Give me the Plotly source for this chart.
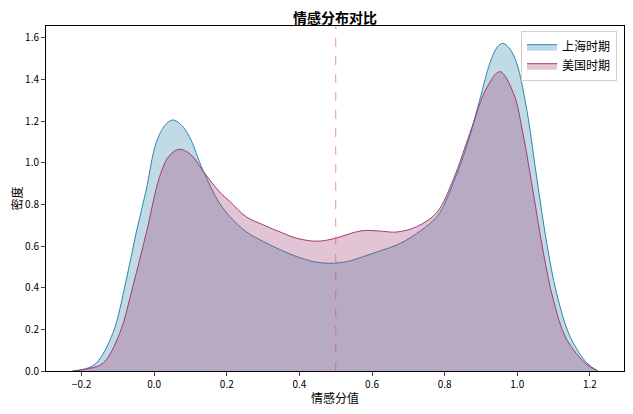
import plotly.graph_objects as go

# kde curves (sentiment score vs density)
sh_x = [-0.225, -0.19, -0.16, -0.114, -0.077, -0.05, -0.022, 0.005, 0.03, 0.051,
        0.075, 0.097, 0.134, 0.18, 0.209, 0.253, 0.301, 0.35, 0.393, 0.44,
        0.484, 0.53, 0.576, 0.62, 0.668, 0.71, 0.76, 0.787, 0.824, 0.861,
        0.897, 0.925, 0.945, 0.96, 0.978, 0.998, 1.026, 1.053, 1.081, 1.108,
        1.145, 1.191, 1.222]
sh_y = [0.0, 0.01, 0.037, 0.181, 0.437, 0.661, 0.869, 1.093, 1.18, 1.205,
        1.18, 1.125, 0.965, 0.805, 0.741, 0.669, 0.621, 0.58, 0.549, 0.525,
        0.517, 0.525, 0.549, 0.575, 0.605, 0.645, 0.709, 0.76, 0.904, 1.08,
        1.304, 1.48, 1.555, 1.573, 1.55, 1.48, 1.256, 0.936, 0.616, 0.376,
        0.168, 0.04, 0.0]

us_x = [-0.225, -0.18, -0.141, -0.095, -0.059, -0.022, 0.015, 0.04, 0.068, 0.1,
        0.139, 0.18, 0.209, 0.253, 0.301, 0.35, 0.393, 0.448, 0.499, 0.54,
        0.576, 0.62, 0.668, 0.723, 0.778, 0.824, 0.87, 0.916, 0.952, 0.989,
        1.017, 1.044, 1.072, 1.099, 1.136, 1.191, 1.222]
us_y = [0.0, 0.012, 0.037, 0.181, 0.405, 0.661, 0.933, 1.03, 1.064, 1.04,
        0.949, 0.86, 0.813, 0.741, 0.701, 0.665, 0.637, 0.623, 0.637, 0.66,
        0.674, 0.672, 0.667, 0.693, 0.76, 0.92, 1.144, 1.36, 1.437, 1.336,
        1.128, 0.856, 0.568, 0.344, 0.152, 0.032, 0.0]

x_ticks = [-0.2, 0.0, 0.2, 0.4, 0.6, 0.8, 1.0, 1.2]
y_ticks = [0.0, 0.2, 0.4, 0.6, 0.8, 1.0, 1.2, 1.4, 1.6]

font = "Noto Sans CJK SC"

fig = go.Figure()
fig.add_trace(go.Scatter(x=sh_x, y=sh_y, name="上海时期", mode="lines",
                         line=dict(color="#2E86AB", width=1, shape="spline"),
                         fill="tozeroy", fillcolor="rgba(46,134,171,0.3)"))
fig.add_trace(go.Scatter(x=us_x, y=us_y, name="美国时期", mode="lines",
                         line=dict(color="#A23B72", width=1, shape="spline"),
                         fill="tozeroy", fillcolor="rgba(162,59,114,0.3)"))

fig.add_vline(x=0.5, line=dict(color="rgba(230,80,90,0.6)", width=1, dash="dash"))

# page body has an 8px margin, so the figure is sized to fit the window
fig.update_layout(
    width=625, height=406,
    margin=dict(l=38, r=9, t=18, b=43),
    plot_bgcolor="white", paper_bgcolor="white",
    font=dict(family=font, size=10, color="black"),
    title=dict(text="<b>情感分布对比</b>", x=0.5, xref="paper",
               y=1 - 10 / 406, yref="container", yanchor="middle",
               font=dict(size=14)),
    legend=dict(x=0.988, y=0.985, xanchor="right", yanchor="top",
                bordercolor="#d0d0d0", borderwidth=1,
                bgcolor="rgba(255,255,255,0.8)", font=dict(size=12)),
)
fig.update_xaxes(range=[-0.298, 1.294], tickvals=x_ticks, tickformat=".1f",
                 showline=True, linecolor="black", linewidth=1, mirror=True,
                 ticks="outside", ticklen=4, showgrid=False, zeroline=False,
                 automargin=False,
                 title=dict(text="情感分值", font=dict(size=12), standoff=4))
fig.update_yaxes(range=[0, 1.656], tickvals=y_ticks, tickformat=".1f",
                 showline=True, linecolor="black", linewidth=1, mirror=True,
                 ticks="outside", ticklen=4, showgrid=False, zeroline=False,
                 automargin=False,
                 title=dict(text="密度", font=dict(size=12), standoff=1))

fig.write_html("out.html")
